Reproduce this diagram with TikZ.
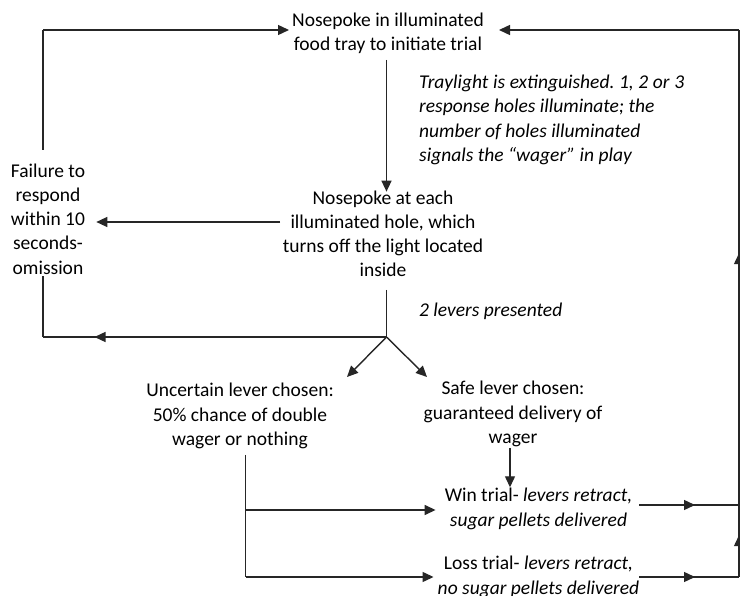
\documentclass[tikz,border=0pt]{standalone}
\usepackage{fontspec}
\setmainfont{Carlito}
\usetikzlibrary{arrows.meta,decorations.markings,calc}
\begin{document}
\begin{tikzpicture}[x=1pt,y=-1pt,
  every node/.style={font=\fontsize{19.5}{24.2}\selectfont},
  txt/.style={align=center,inner sep=3pt},
  note/.style={align=left,inner sep=0pt,anchor=west,font=\fontsize{19.5}{24.5}\selectfont\itshape},
  conn/.style={line width=1.4pt,draw=black!85},
  arr/.style={conn,-{Triangle[length=11pt,width=10pt]}},
  midarr/.style={conn,postaction={decorate},decoration={markings,
     mark=at position #1 with {\arrow{Triangle[length=11pt,width=10pt]}}}},
  midarr/.default=0.5
]
\fill[white] (0,0) rectangle (740,596);
\useasboundingbox (0,0) rectangle (740,596);

\node[txt] (top) at (388,33) {Nosepoke in illuminated\\food tray to initiate trial};
\node[note] (n1) at (419,120) {\makebox[265pt][s]{Traylight is extinguished.\ 1, 2 or 3}\\response holes illuminate; the\\number of holes illuminated\\signals the “wager” in play};
\node[txt] (mid) at (383,234) {Nosepoke at each\\illuminated hole, which\\turns off the light located\\inside};
\node[txt] (fail) at (48,219) {Failure to\\respond\\within 10\\seconds-\\omission};
\node[note] (n2) at (419,311) {2 levers presented};
\node[txt] (unc) at (240,416) {Uncertain lever chosen:\\50\% chance of double\\wager or nothing};
\node[txt] (safe) at (513,414) {Safe lever chosen:\\guaranteed delivery of\\wager};
\node[txt] (win) at (538.5,509) {Win trial- \textit{levers retract,}\\\textit{sugar pellets delivered}};
\node[txt] (loss) at (538.5,577) {Loss trial- \textit{levers retract,}\\\textit{no sugar pellets delivered}};

\path (43,30) coordinate (lt)
      (43,150) coordinate (lb)
      (739,30) coordinate (rt)
      (386.5,337) coordinate (split)
      (43,337) coordinate (fb)
      (43,276) coordinate (ft)
      (347,377) coordinate (ua)
      (427,377) coordinate (sa)
      (386.5,290) coordinate (mb)
      (245.5,455) coordinate (uc)
      (245.5,510) coordinate (ub)
      (245.5,577) coordinate (ul)
      (739,505) coordinate (rw)
      (739,577) coordinate (rl)
      (639,505) coordinate (ws)
      (639,577) coordinate (ls)
      (510,448) coordinate (sb)
      (386.5,60) coordinate (ta)
      (280,222) coordinate (mf);

\draw[conn] (lb) -- (lt);
\draw[arr] (lt) -- (top.west |- lt);
\draw[arr] (ta) -- ([yshift=-4pt]mid.north -| ta);
\draw[arr] (mf) -- ([xshift=8pt]fail.east |- mf);
\draw[conn] (mb) -- (split);
\draw[midarr=0.85] (split) -- (fb);
\draw[conn] (fb) -- (ft);
\draw[arr] (split) -- (ua);
\draw[arr] (split) -- (sa);
\draw[arr] (sb) -- ([yshift=-2pt]sb |- win.north);
\draw[conn] (uc) -- (ul);
\draw[arr] (ub) -- ([xshift=-6pt]ub -| win.west);
\draw[arr] (ul) -- ([xshift=-1pt]ul -| loss.west);
% right-hand return path
\draw[midarr=0.56] (ws) ++(0,0) -- ++(100,0);
\draw[midarr=0.56] (ls) ++(0,0) -- ++(100,0);
\draw[midarr=0.58] (rl) ++(0,0) -- ++(0,-72);
\draw[midarr=0.53] (rw) ++(0,0) -- ++(0,-475);
\draw[arr] (rt) ++(0,0) -- ([xshift=12pt]top.east |- rt);
\end{tikzpicture}
\end{document}
